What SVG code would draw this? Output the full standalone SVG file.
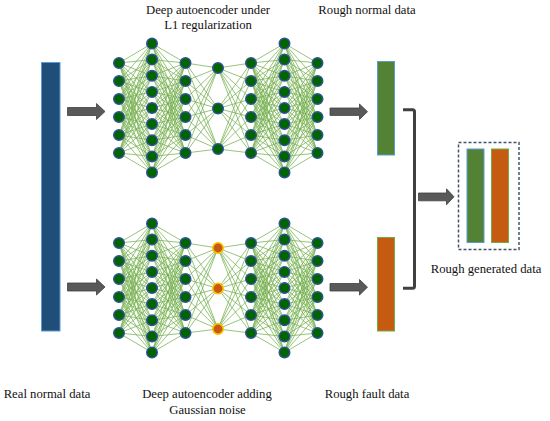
<svg xmlns="http://www.w3.org/2000/svg" xmlns:xlink="http://www.w3.org/1999/xlink" width="550" height="421" viewBox="0 0 550 421">
<style>
text{font-family:"Liberation Serif","Times New Roman",serif;font-size:12.7px;fill:#111111;text-anchor:middle}
.ed{fill:none;stroke:#70ad47;stroke-width:0.8;stroke-opacity:0.9}
.n{fill:#006400;stroke:#2e5199;stroke-width:1.4}
.o{fill:#c55a11;stroke:#ffc000;stroke-width:1.6}
.arr{fill:#595959;stroke:#3f3f3f;stroke-width:0.8}
.bl{stroke:#5b9bd5;stroke-width:1}
.gr{fill:#548235}
.or{fill:#c55a11}
.gs{stroke:#70ad47;stroke-width:1}
</style>
<defs>
<circle id="c" r="5.3" class="n"/>
<path id="edges" class="ed" d="M119 63 152 43.5M119 63 152 59.6M119 63 152 75.8M119 63 152 91.9M119 63 152 108M119 63 152 124.1M119 63 152 140.3M119 63 152 156.4M119 63 152 172.5
M119 81 152 43.5M119 81 152 59.6M119 81 152 75.8M119 81 152 91.9M119 81 152 108M119 81 152 124.1M119 81 152 140.3M119 81 152 156.4M119 81 152 172.5
M119 99 152 43.5M119 99 152 59.6M119 99 152 75.8M119 99 152 91.9M119 99 152 108M119 99 152 124.1M119 99 152 140.3M119 99 152 156.4M119 99 152 172.5
M119 117 152 43.5M119 117 152 59.6M119 117 152 75.8M119 117 152 91.9M119 117 152 108M119 117 152 124.1M119 117 152 140.3M119 117 152 156.4M119 117 152 172.5
M119 135 152 43.5M119 135 152 59.6M119 135 152 75.8M119 135 152 91.9M119 135 152 108M119 135 152 124.1M119 135 152 140.3M119 135 152 156.4M119 135 152 172.5
M119 153 152 43.5M119 153 152 59.6M119 153 152 75.8M119 153 152 91.9M119 153 152 108M119 153 152 124.1M119 153 152 140.3M119 153 152 156.4M119 153 152 172.5
M185.5 63 152 43.5M185.5 63 152 59.6M185.5 63 152 75.8M185.5 63 152 91.9M185.5 63 152 108M185.5 63 152 124.1M185.5 63 152 140.3M185.5 63 152 156.4M185.5 63 152 172.5
M185.5 81 152 43.5M185.5 81 152 59.6M185.5 81 152 75.8M185.5 81 152 91.9M185.5 81 152 108M185.5 81 152 124.1M185.5 81 152 140.3M185.5 81 152 156.4M185.5 81 152 172.5
M185.5 99 152 43.5M185.5 99 152 59.6M185.5 99 152 75.8M185.5 99 152 91.9M185.5 99 152 108M185.5 99 152 124.1M185.5 99 152 140.3M185.5 99 152 156.4M185.5 99 152 172.5
M185.5 117 152 43.5M185.5 117 152 59.6M185.5 117 152 75.8M185.5 117 152 91.9M185.5 117 152 108M185.5 117 152 124.1M185.5 117 152 140.3M185.5 117 152 156.4M185.5 117 152 172.5
M185.5 135 152 43.5M185.5 135 152 59.6M185.5 135 152 75.8M185.5 135 152 91.9M185.5 135 152 108M185.5 135 152 124.1M185.5 135 152 140.3M185.5 135 152 156.4M185.5 135 152 172.5
M185.5 153 152 43.5M185.5 153 152 59.6M185.5 153 152 75.8M185.5 153 152 91.9M185.5 153 152 108M185.5 153 152 124.1M185.5 153 152 140.3M185.5 153 152 156.4M185.5 153 152 172.5
M218 68 185.5 63M218 68 185.5 81M218 68 185.5 99M218 68 185.5 117M218 68 185.5 135M218 68 185.5 153
M218 108.5 185.5 63M218 108.5 185.5 81M218 108.5 185.5 99M218 108.5 185.5 117M218 108.5 185.5 135M218 108.5 185.5 153
M218 149 185.5 63M218 149 185.5 81M218 149 185.5 99M218 149 185.5 117M218 149 185.5 135M218 149 185.5 153
M218 68 251 63M218 68 251 81M218 68 251 99M218 68 251 117M218 68 251 135M218 68 251 153
M218 108.5 251 63M218 108.5 251 81M218 108.5 251 99M218 108.5 251 117M218 108.5 251 135M218 108.5 251 153
M218 149 251 63M218 149 251 81M218 149 251 99M218 149 251 117M218 149 251 135M218 149 251 153
M251 63 284.5 43.5M251 63 284.5 59.6M251 63 284.5 75.8M251 63 284.5 91.9M251 63 284.5 108M251 63 284.5 124.1M251 63 284.5 140.3M251 63 284.5 156.4M251 63 284.5 172.5
M251 81 284.5 43.5M251 81 284.5 59.6M251 81 284.5 75.8M251 81 284.5 91.9M251 81 284.5 108M251 81 284.5 124.1M251 81 284.5 140.3M251 81 284.5 156.4M251 81 284.5 172.5
M251 99 284.5 43.5M251 99 284.5 59.6M251 99 284.5 75.8M251 99 284.5 91.9M251 99 284.5 108M251 99 284.5 124.1M251 99 284.5 140.3M251 99 284.5 156.4M251 99 284.5 172.5
M251 117 284.5 43.5M251 117 284.5 59.6M251 117 284.5 75.8M251 117 284.5 91.9M251 117 284.5 108M251 117 284.5 124.1M251 117 284.5 140.3M251 117 284.5 156.4M251 117 284.5 172.5
M251 135 284.5 43.5M251 135 284.5 59.6M251 135 284.5 75.8M251 135 284.5 91.9M251 135 284.5 108M251 135 284.5 124.1M251 135 284.5 140.3M251 135 284.5 156.4M251 135 284.5 172.5
M251 153 284.5 43.5M251 153 284.5 59.6M251 153 284.5 75.8M251 153 284.5 91.9M251 153 284.5 108M251 153 284.5 124.1M251 153 284.5 140.3M251 153 284.5 156.4M251 153 284.5 172.5
M317.5 63 284.5 43.5M317.5 63 284.5 59.6M317.5 63 284.5 75.8M317.5 63 284.5 91.9M317.5 63 284.5 108M317.5 63 284.5 124.1M317.5 63 284.5 140.3M317.5 63 284.5 156.4M317.5 63 284.5 172.5
M317.5 81 284.5 43.5M317.5 81 284.5 59.6M317.5 81 284.5 75.8M317.5 81 284.5 91.9M317.5 81 284.5 108M317.5 81 284.5 124.1M317.5 81 284.5 140.3M317.5 81 284.5 156.4M317.5 81 284.5 172.5
M317.5 99 284.5 43.5M317.5 99 284.5 59.6M317.5 99 284.5 75.8M317.5 99 284.5 91.9M317.5 99 284.5 108M317.5 99 284.5 124.1M317.5 99 284.5 140.3M317.5 99 284.5 156.4M317.5 99 284.5 172.5
M317.5 117 284.5 43.5M317.5 117 284.5 59.6M317.5 117 284.5 75.8M317.5 117 284.5 91.9M317.5 117 284.5 108M317.5 117 284.5 124.1M317.5 117 284.5 140.3M317.5 117 284.5 156.4M317.5 117 284.5 172.5
M317.5 135 284.5 43.5M317.5 135 284.5 59.6M317.5 135 284.5 75.8M317.5 135 284.5 91.9M317.5 135 284.5 108M317.5 135 284.5 124.1M317.5 135 284.5 140.3M317.5 135 284.5 156.4M317.5 135 284.5 172.5
M317.5 153 284.5 43.5M317.5 153 284.5 59.6M317.5 153 284.5 75.8M317.5 153 284.5 91.9M317.5 153 284.5 108M317.5 153 284.5 124.1M317.5 153 284.5 140.3M317.5 153 284.5 156.4M317.5 153 284.5 172.5"/>
<g id="neurons">
<use href="#c" x="119" y="63"/><use href="#c" x="119" y="81"/><use href="#c" x="119" y="99"/><use href="#c" x="119" y="117"/><use href="#c" x="119" y="135"/><use href="#c" x="119" y="153"/>
<use href="#c" x="152" y="43.5"/><use href="#c" x="152" y="59.6"/><use href="#c" x="152" y="75.8"/><use href="#c" x="152" y="91.9"/><use href="#c" x="152" y="108"/><use href="#c" x="152" y="124.1"/><use href="#c" x="152" y="140.3"/><use href="#c" x="152" y="156.4"/><use href="#c" x="152" y="172.5"/>
<use href="#c" x="185.5" y="63"/><use href="#c" x="185.5" y="81"/><use href="#c" x="185.5" y="99"/><use href="#c" x="185.5" y="117"/><use href="#c" x="185.5" y="135"/><use href="#c" x="185.5" y="153"/>
<use href="#c" x="251" y="63"/><use href="#c" x="251" y="81"/><use href="#c" x="251" y="99"/><use href="#c" x="251" y="117"/><use href="#c" x="251" y="135"/><use href="#c" x="251" y="153"/>
<use href="#c" x="284.5" y="43.5"/><use href="#c" x="284.5" y="59.6"/><use href="#c" x="284.5" y="75.8"/><use href="#c" x="284.5" y="91.9"/><use href="#c" x="284.5" y="108"/><use href="#c" x="284.5" y="124.1"/><use href="#c" x="284.5" y="140.3"/><use href="#c" x="284.5" y="156.4"/><use href="#c" x="284.5" y="172.5"/>
<use href="#c" x="317.5" y="63"/><use href="#c" x="317.5" y="81"/><use href="#c" x="317.5" y="99"/><use href="#c" x="317.5" y="117"/><use href="#c" x="317.5" y="135"/><use href="#c" x="317.5" y="153"/>
</g>
</defs>
<rect width="550" height="421" fill="#ffffff"/>

<g id="real-normal-data">
<rect x="41.5" y="62.5" width="18.5" height="268.5" fill="#1f4e79" class="bl"/>
<text x="47" y="398.3">Real normal data</text>
</g>

<g id="ae-l1">
<use href="#edges"/>
<use href="#neurons"/>
<circle cx="218" cy="68" r="5.3" class="n"/><circle cx="218" cy="108.5" r="5.3" class="n"/><circle cx="218" cy="149" r="5.3" class="n"/>
<text x="208" y="14.2">Deep autoencoder under</text>
<text x="208" y="29">L1 regularization</text>
</g>

<g id="ae-gaussian">
<use href="#edges" y="180"/>
<use href="#neurons" y="180"/>
<circle cx="218" cy="248" r="5.2" class="o"/><circle cx="218" cy="288.5" r="5.2" class="o"/><circle cx="218" cy="329" r="5.2" class="o"/>
<text x="207" y="398.3">Deep autoencoder adding</text>
<text x="207.5" y="414.3">Gaussian noise</text>
</g>

<g id="rough-normal-data">
<rect x="377.5" y="61.5" width="17" height="93.5" class="gr bl"/>
<text x="367" y="14.2">Rough normal data</text>
</g>

<g id="rough-fault-data">
<rect x="377.5" y="237.5" width="17" height="93.5" class="or gs"/>
<text x="367" y="398.3">Rough fault data</text>
</g>

<g id="rough-generated-data">
<rect x="458.5" y="142.5" width="60.5" height="107" fill="none" stroke="#44546a" stroke-width="1.5" stroke-dasharray="3 2"/>
<rect x="467" y="149" width="17" height="93.5" class="gr bl"/>
<rect x="491.5" y="149" width="17" height="93.5" class="or gs"/>
<text x="486" y="272.7">Rough generated data</text>
</g>

<g id="connectors">
<polygon class="arr" points="67.5,107.5 96.5,107.5 96.5,103.5 105,111.5 96.5,119.5 96.5,115.5 67.5,115.5"/>
<polygon class="arr" points="67.5,283 96.5,283 96.5,279 105,287 96.5,295 96.5,291 67.5,291"/>
<polygon class="arr" points="330,108 359.5,108 359.5,104 367.5,111.7 359.5,119.4 359.5,115.4 330,115.4"/>
<polygon class="arr" points="330,283.5 359.5,283.5 359.5,279.5 367.5,287.2 359.5,295 359.5,291 330,291"/>
<path d="M403 109.8H412.5Q414.5 109.8 414.5 111.8V286.3Q414.5 288.3 412.5 288.3H403" fill="none" stroke="#404040" stroke-width="3"/>
<polygon class="arr" points="418.5,193 446.5,193 446.5,188.8 454,196.8 446.5,204.8 446.5,200.8 418.5,200.8"/>
</g>
</svg>
